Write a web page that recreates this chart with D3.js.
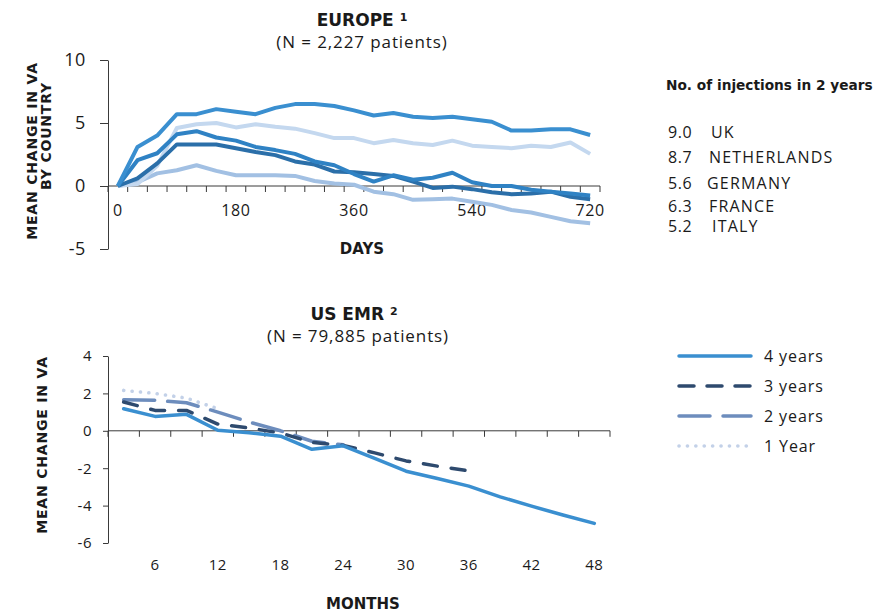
<!DOCTYPE html>
<html>
<head>
<meta charset="utf-8">
<script src="https://cdn.jsdelivr.net/npm/d3@7/dist/d3.min.js"></script>
<style>
  body { margin: 0; background: #fff; }
  text { font-family: "Open Sans", sans-serif; fill: #1a1a1a; }
  text.bold { font-family: "DejaVu Sans", sans-serif; font-weight: 700; }
  .axis path, .axis line { stroke: #3a3a3a; }
</style>
</head>
<body>
<svg id="chart" width="889" height="612"></svg>
<script>
// Europe: mean change in VA by day, one series per country
var days = [0, 30, 60, 90, 120, 150, 180, 210, 240, 270, 300, 330, 360,
            390, 420, 450, 480, 510, 540, 570, 600, 630, 660, 690, 720];
var dayLabels = [0, 180, 360, 540, 720];
var uk          = [0, 3.1, 4.0, 5.7, 5.7, 6.1, 5.9, 5.7, 6.2, 6.5, 6.5, 6.35, 6.0, 5.6, 5.8, 5.5, 5.4, 5.5, 5.3, 5.1, 4.4, 4.4, 4.5, 4.5, 4.05];
var netherlands = [0, 0.15, 1.6, 4.6, 4.9, 5.0, 4.65, 4.9, 4.7, 4.55, 4.2, 3.8, 3.8, 3.4, 3.65, 3.4, 3.25, 3.6, 3.2, 3.1, 3.0, 3.2, 3.1, 3.45, 2.55];
var germany     = [0, 2.05, 2.6, 4.1, 4.35, 3.85, 3.6, 3.1, 2.85, 2.55, 1.95, 1.65, 0.95, 0.35, 0.85, 0.5, 0.65, 1.05, 0.3, 0.0, 0.0, -0.3, -0.45, -0.6, -0.75];
var france      = [0, 0.6, 1.8, 3.3, 3.3, 3.3, 3.0, 2.7, 2.45, 1.95, 1.7, 1.15, 1.1, 0.95, 0.8, 0.35, -0.15, -0.05, -0.25, -0.5, -0.65, -0.6, -0.45, -0.85, -1.05];
var italy       = [0, 0.3, 1.0, 1.25, 1.65, 1.2, 0.85, 0.85, 0.85, 0.8, 0.4, 0.2, 0.1, -0.45, -0.65, -1.1, -1.05, -1.0, -1.25, -1.5, -1.9, -2.1, -2.45, -2.8, -2.95];
var injections  = ["9.0", "8.7", "5.6", "6.3", "5.2"];
var countries   = ["UK", "NETHERLANDS", "GERMANY", "FRANCE", "ITALY"];

// US EMR: mean change in VA by month, one series per follow-up cohort
var months = [3, 6, 9, 12, 15, 18, 21, 24, 27, 30, 33, 36, 39, 42, 45, 48];
var monthLabels = [6, 12, 18, 24, 30, 36, 42, 48];
var fourYears  = [1.18, 0.77, 0.88, 0.03, -0.1, -0.29, -0.99, -0.8, -1.48, -2.16, -2.55, -2.96, -3.53, -4.03, -4.5, -4.95];
var threeYears = [1.54, 1.09, 1.09, 0.36, 0.15, -0.12, -0.62, -0.78, -1.18, -1.61, -1.89, -2.14];
var twoYears   = [1.66, 1.63, 1.5, 1.0, 0.47, 0.0, -0.56, -0.75];
var oneYear    = [2.16, 2.0, 1.75, 1.18];
var cohorts = ["4 years", "3 years", "2 years", "1 Year"];

var svg = d3.select("#chart");
var plain = function(d) { return String(d); };   // keep "-5", not the unicode minus

// ---------- top chart ----------
var xTop = d3.scaleBand().domain(days).range([108, 600]);
var yTop = d3.scaleLinear().domain([-5, 10]).range([249, 60]);
var cx = function(s) { return function(d) { return s(d) + s.bandwidth() / 2; }; };
var xTopC = cx(xTop);

var t1 = svg.append("text").attr("class", "bold").attr("x", 362).attr("y", 20).attr("dy", "0.35em")
  .attr("text-anchor", "middle").style("font-size", "17px");
t1.append("tspan").text("EUROPE ");
t1.append("tspan").attr("dy", "-0.45em").style("font-size", "11px").text("1");
svg.append("text").attr("x", 362).attr("y", 42).attr("dy", "0.35em")
  .attr("text-anchor", "middle").style("font-size", "17px").style("letter-spacing", "0.9px")
  .text("(N = 2,227 patients)");

svg.append("g").attr("class", "axis")
  .attr("transform", "translate(108,0)")
  .call(d3.axisLeft(yTop).tickValues([-5, 0, 5, 10]).tickFormat(plain)
    .tickSize(8).tickSizeOuter(0).tickPadding(14))
  .call(function(g) {
    g.selectAll("text").style("font-size", "18px").style("letter-spacing", "0.6px").attr("fill", "#1a1a1a");
  });

// x axis at zero with ticks at category boundaries
var gx = svg.append("g").attr("class", "axis");
gx.append("line").attr("x1", 108).attr("x2", 600).attr("y1", yTop(0)).attr("y2", yTop(0));
gx.selectAll(".tk").data(days.map(function(d) { return xTop(d); }).concat([xTop.range()[1]]))
  .enter().append("line")
  .attr("x1", function(d) { return d; }).attr("x2", function(d) { return d; })
  .attr("y1", yTop(0)).attr("y2", yTop(0) + 6);
svg.selectAll(".dl").data(dayLabels).enter().append("text")
  .attr("x", xTopC).attr("y", 210).attr("dy", "0.35em")
  .attr("text-anchor", "middle").style("font-size", "16px").style("letter-spacing", "0.7px")
  .text(function(d) { return d; });

var euSeries = [
  { values: italy,       color: "#a2c0e3" },
  { values: netherlands, color: "#c4d8ef" },
  { values: france,      color: "#2b6fa9" },
  { values: germany,     color: "#2f82c4" },
  { values: uk,          color: "#3a8fd0" }
];
var lineTop = d3.line().x(function(d, i) { return xTopC(days[i]); }).y(function(d) { return yTop(d); });
svg.selectAll(".eu").data(euSeries).enter().append("path")
  .attr("d", function(s) { return lineTop(s.values); })
  .attr("fill", "none").attr("stroke", function(s) { return s.color; })
  .attr("stroke-width", 4).attr("stroke-linejoin", "round");

svg.append("text").attr("class", "bold").attr("x", 362).attr("y", 249).attr("dy", "0.35em")
  .attr("text-anchor", "middle").style("font-size", "15px").text("DAYS");
svg.append("text").attr("class", "bold").attr("transform", "translate(32,151) rotate(-90)").attr("dy", "0.35em")
  .attr("text-anchor", "middle").style("font-size", "14px").style("letter-spacing", "0.8px")
  .text("MEAN CHANGE IN VA");
svg.append("text").attr("class", "bold").attr("transform", "translate(46,136) rotate(-90)").attr("dy", "0.35em")
  .attr("text-anchor", "middle").style("font-size", "14px").style("letter-spacing", "0.8px")
  .text("BY COUNTRY");

// top legend (no colour key in the original)
svg.append("text").attr("class", "bold").attr("x", 666).attr("y", 85).attr("dy", "0.35em")
  .style("font-size", "13.7px").text("No. of injections in 2 years");
var legY = [132, 157, 183, 206, 226];
var legX = [711, 709, 707, 709, 712];
countries.forEach(function(c, i) {
  svg.append("text").attr("x", 668).attr("y", legY[i]).attr("dy", "0.35em")
    .style("font-size", "16px").style("letter-spacing", "0.6px").text(injections[i]);
  svg.append("text").attr("x", legX[i]).attr("y", legY[i]).attr("dy", "0.35em")
    .style("font-size", "16px").style("letter-spacing", "1.2px").text(c);
});

// ---------- bottom chart ----------
var xBot = d3.scaleBand().domain(months).range([108, 610]);
var yBot = d3.scaleLinear().domain([-6, 4]).range([543, 356]);
var xBotC = cx(xBot);

var t2 = svg.append("text").attr("class", "bold").attr("x", 354).attr("y", 314).attr("dy", "0.35em")
  .attr("text-anchor", "middle").style("font-size", "17px");
t2.append("tspan").text("US EMR ");
t2.append("tspan").attr("dy", "-0.45em").style("font-size", "11px").text("2");
svg.append("text").attr("x", 358).attr("y", 336).attr("dy", "0.35em")
  .attr("text-anchor", "middle").style("font-size", "17px").style("letter-spacing", "0.9px")
  .text("(N = 79,885 patients)");

svg.append("g").attr("class", "axis")
  .attr("transform", "translate(108,0)")
  .call(d3.axisLeft(yBot).tickValues([-6, -4, -2, 0, 2, 4]).tickFormat(plain)
    .tickSize(5).tickSizeOuter(0).tickPadding(11))
  .call(function(g) {
    g.selectAll("text").style("font-size", "15px").style("letter-spacing", "0.5px").attr("fill", "#1a1a1a");
  });

var gx2 = svg.append("g").attr("class", "axis");
gx2.append("line").attr("x1", 108).attr("x2", 610).attr("y1", yBot(0)).attr("y2", yBot(0));
gx2.selectAll(".tk").data(months.map(function(d) { return xBot(d); }).concat([xBot.range()[1]]))
  .enter().append("line")
  .attr("x1", function(d) { return d; }).attr("x2", function(d) { return d; })
  .attr("y1", yBot(0)).attr("y2", yBot(0) + 6);
svg.selectAll(".ml").data(monthLabels).enter().append("text")
  .attr("x", xBotC).attr("y", 565).attr("dy", "0.35em")
  .attr("text-anchor", "middle").style("font-size", "15px").style("letter-spacing", "0.6px")
  .text(function(d) { return d; });

var usSeries = [
  { values: oneYear,    color: "#c3d1e8", dash: "0.1 8.3", width: 3.6 },
  { values: twoYears,   color: "#6d8dbd", dash: "31 13",   width: 3.5 },
  { values: threeYears, color: "#2e4a6e", dash: "14 14",   width: 3.5 },
  { values: fourYears,  color: "#3a8fd0", dash: null,      width: 3.5 }
];
var lineBot = d3.line().x(function(d, i) { return xBotC(months[i]); }).y(function(d) { return yBot(d); });
svg.selectAll(".us").data(usSeries).enter().append("path")
  .attr("d", function(s) { return lineBot(s.values); })
  .attr("fill", "none").attr("stroke", function(s) { return s.color; })
  .attr("stroke-width", function(s) { return s.width; })
  .attr("stroke-dasharray", function(s) { return s.dash; })
  .attr("stroke-linecap", "round")
  .attr("stroke-linejoin", "round");

svg.append("text").attr("class", "bold").attr("x", 363).attr("y", 604).attr("dy", "0.35em")
  .attr("text-anchor", "middle").style("font-size", "15px").text("MONTHS");
svg.append("text").attr("class", "bold").attr("transform", "translate(42,445) rotate(-90)").attr("dy", "0.35em")
  .attr("text-anchor", "middle").style("font-size", "14px").style("letter-spacing", "0.8px")
  .text("MEAN CHANGE IN VA");

// bottom legend
var legendStyles = usSeries.slice().reverse();
cohorts.forEach(function(c, i) {
  var y = 356 + i * 30, s = legendStyles[i];
  svg.append("line").attr("x1", 679).attr("x2", 751).attr("y1", y).attr("y2", y)
    .attr("stroke", s.color).attr("stroke-width", s.width)
    .attr("stroke-dasharray", i === 1 ? "15 13" : s.dash)
    .attr("stroke-linecap", "round");
  svg.append("text").attr("x", 764).attr("y", y).attr("dy", "0.35em")
    .style("font-size", "16px").style("letter-spacing", "0.9px").text(c);
});
</script>
</body>
</html>
